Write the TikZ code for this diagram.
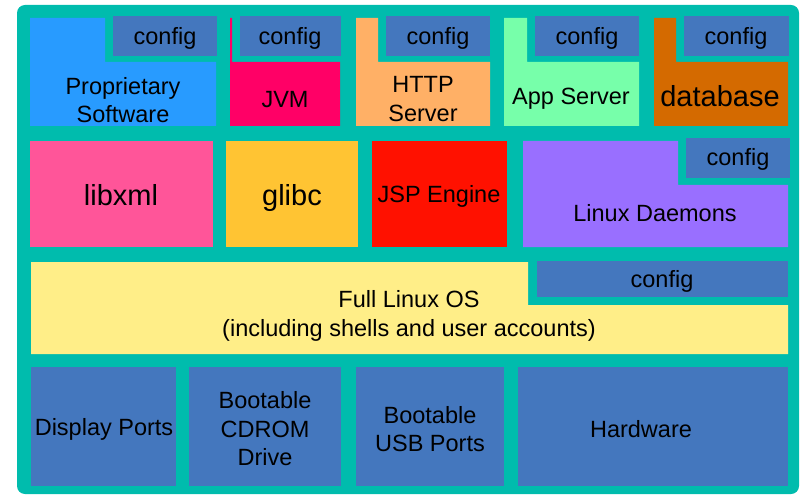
\documentclass[tikz,border=0pt]{standalone}
\usepackage{fontspec}
\setmainfont{Liberation Sans}
\definecolor{tealbg}{RGB}{0,188,173}
\definecolor{cfgblue}{RGB}{68,119,190}
\definecolor{propblue}{RGB}{40,155,255}
\definecolor{jvmred}{RGB}{255,0,102}
\definecolor{httporange}{RGB}{255,176,102}
\definecolor{appgreen}{RGB}{119,255,170}
\definecolor{dbbrown}{RGB}{212,106,0}
\definecolor{libpink}{RGB}{255,85,153}
\definecolor{glibcyellow}{RGB}{255,196,51}
\definecolor{jspred}{RGB}{255,17,0}
\definecolor{daemonpurple}{RGB}{153,111,255}
\definecolor{osyellow}{RGB}{255,238,136}
\begin{document}
\begin{tikzpicture}[x=1pt,y=-1pt,
  lbl/.style={font=\fontsize{23.5}{28.5}\selectfont, align=center, inner sep=0pt, text=black},
  biglbl/.style={font=\fontsize{29}{34}\selectfont, align=center, inner sep=0pt, text=black, anchor=base}]
\useasboundingbox (0,0) rectangle (800,497);
\fill[tealbg, rounded corners=8pt] (17,5) rectangle (799,494);
% top row
\fill[propblue] (30,18) -- (105,18) -- (105,62) -- (216,62) -- (216,126) -- (30,126) -- cycle;
\fill[cfgblue] (113,16) rectangle (217,56);
\fill[jvmred] (230,18) -- (232,18) -- (232,62) -- (340,62) -- (340,126) -- (230,126) -- cycle;
\fill[cfgblue] (240,16) rectangle (341,56);
\fill[httporange] (356,18) -- (378,18) -- (378,62) -- (490,62) -- (490,126) -- (356,126) -- cycle;
\fill[cfgblue] (386,16) rectangle (490,56);
\fill[appgreen] (504,18) -- (527,18) -- (527,62) -- (639,62) -- (639,126) -- (504,126) -- cycle;
\fill[cfgblue] (535,16) rectangle (639,56);
\fill[dbbrown] (654,18) -- (676,18) -- (676,62) -- (788,62) -- (788,126) -- (654,126) -- cycle;
\fill[cfgblue] (684,16) rectangle (789,56);
% second row
\fill[libpink] (30,141) rectangle (213,247);
\fill[glibcyellow] (226,141) rectangle (358,247);
\fill[jspred] (372,141) rectangle (507,247);
\fill[daemonpurple] (523,141) -- (678,141) -- (678,185) -- (788,185) -- (788,247) -- (523,247) -- cycle;
\fill[cfgblue] (686,138) rectangle (790,178);
% third row
\fill[osyellow] (31,262) -- (528,262) -- (528,305) -- (788,305) -- (788,354) -- (31,354) -- cycle;
\fill[cfgblue] (537,261) rectangle (788,297);
% bottom row
\fill[cfgblue] (31,367) rectangle (176,486);
\fill[cfgblue] (189,367) rectangle (341,486);
\fill[cfgblue] (356,367) rectangle (504,486);
\fill[cfgblue] (518,367) rectangle (788,486);
% labels
\node[lbl] (cfgprop) at (165,38) {config};
\node[lbl] (cfgjvm) at (290,38) {config};
\node[lbl] (cfghttp) at (438,38) {config};
\node[lbl] (cfgapp) at (587,38) {config};
\node[lbl] (cfgdb) at (736,38) {config};
\node[lbl] (prop) at (123,100) {Proprietary\\Software};
\node[lbl] (jvm) at (285,100) {JVM};
\node[lbl] (http) at (423,99) {HTTP\\Server};
\node[lbl] (app) at (571,99) {App Server};
\node[biglbl] (db) at (720,107) {database};
\node[biglbl] (libxml) at (121,206) {libxml};
\node[biglbl] (glibc) at (292,206) {glibc};
\node[lbl, anchor=base] (jsp) at (439,203) {JSP Engine};
\node[lbl] (daemons) at (655,213) {Linux Daemons};
\node[lbl] (cfgdaemons) at (738,159) {config};
\node[lbl] (cfgos) at (662,281) {config};
\node[lbl] (os) at (409,316) {Full Linux OS\\(including shells and user accounts)};
\node[lbl] (display) at (104,429) {Display Ports};
\node[lbl] (cdrom) at (265,429) {Bootable\\CDROM\\Drive};
\node[lbl] (usb) at (430,429) {Bootable\\USB Ports};
\node[lbl] (hw) at (641,429) {Hardware};
\end{tikzpicture}
\end{document}
